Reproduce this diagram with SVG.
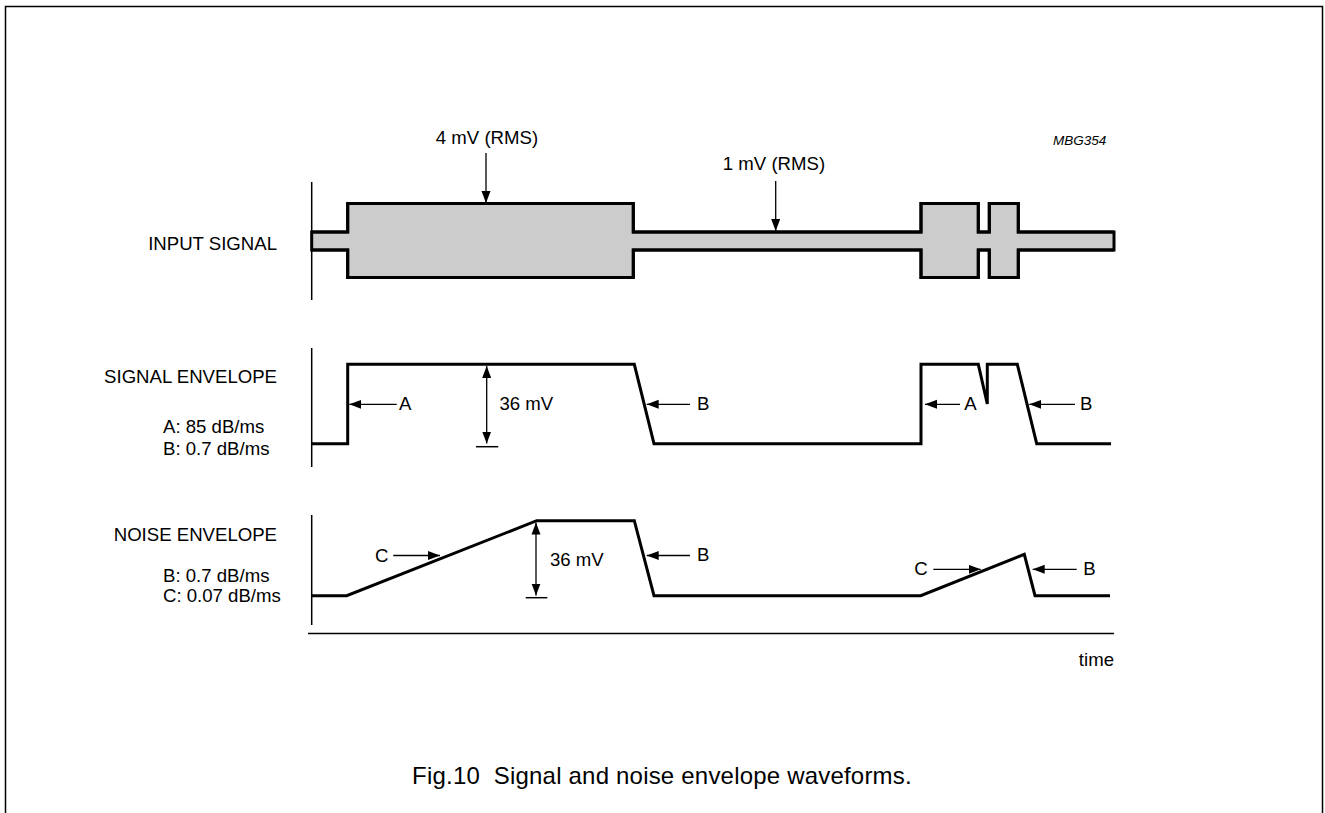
<svg xmlns="http://www.w3.org/2000/svg" width="1325" height="813" viewBox="0 0 1325 813">
<style>
text{font-family:"Liberation Sans",Arial,sans-serif;fill:#000}
.lbl{font-size:18.6px}
.sm{font-size:18.6px}
.wave{fill:none;stroke:#000;stroke-width:3;stroke-linejoin:miter}
.band{fill:#cccccc;stroke:#000;stroke-width:3}
.axis{stroke:#000;stroke-width:1.5;fill:none}
.arr{stroke:#000;stroke-width:1.3;fill:none;marker-end:url(#ah)}
.darr{stroke:#000;stroke-width:1.3;fill:none;marker-end:url(#ah);marker-start:url(#ahs)}
</style>
<defs>
<marker id="ah" markerUnits="userSpaceOnUse" markerWidth="14" markerHeight="10" refX="12" refY="4.5" orient="auto"><path d="M0,0 L12,4.5 L0,9 Z" fill="#000"/></marker>
<marker id="ahs" markerUnits="userSpaceOnUse" markerWidth="14" markerHeight="10" refX="0" refY="4.5" orient="auto"><path d="M12,0 L0,4.5 L12,9 Z" fill="#000"/></marker>
</defs>
<rect x="5.5" y="6.5" width="1317" height="830" fill="none" stroke="#000" stroke-width="1.5"/>
<g id="labels">
<text class="lbl" x="277" y="250" text-anchor="end">INPUT SIGNAL</text>
<text class="lbl" x="277" y="383" text-anchor="end">SIGNAL ENVELOPE</text>
<text class="sm" x="163" y="433">A: 85 dB/ms</text>
<text class="sm" x="163" y="455">B: 0.7 dB/ms</text>
<text class="lbl" x="277" y="541" text-anchor="end">NOISE ENVELOPE</text>
<text class="sm" x="163" y="582">B: 0.7 dB/ms</text>
<text class="sm" x="163" y="602">C: 0.07 dB/ms</text>
<text x="1053" y="145" font-size="13.5" font-style="italic">MBG354</text>
<text class="sm" x="1114" y="666" text-anchor="end">time</text>
<text x="662" y="784" font-size="24" letter-spacing="0.2" text-anchor="middle" style="white-space:pre">Fig.10  Signal and noise envelope waveforms.</text>
</g>
<g id="input-signal">
<line class="axis" x1="311.7" y1="182" x2="311.7" y2="300"/>
<path class="band" d="M311.7,232 H347.7 V203.5 H633.3 V232 H921 V203.5 H978.3 V232 H989.3 V203.5 H1018.3 V232 H1114 V250 H1018.3 V277.5 H989.3 V250 H978.3 V277.5 H921 V250 H633.3 V277.5 H347.7 V250 H311.7 Z" stroke="none"/>
<path class="wave" d="M311.7,232 H347.7 V203.5 H633.3 V232 H921 V203.5 H978.3 V232 H989.3 V203.5 H1018.3 V232 H1114"/>
<path class="wave" d="M311.7,250 H347.7 V277.5 H633.3 V250 H921 V277.5 H978.3 V250 H989.3 V277.5 H1018.3 V250 H1114"/>
<text class="sm" x="487" y="144" text-anchor="middle">4 mV (RMS)</text>
<text class="sm" x="774" y="170" text-anchor="middle">1 mV (RMS)</text>
</g>
<g id="signal-envelope">
<line class="axis" x1="311.7" y1="348" x2="311.7" y2="467"/>
<path class="wave" d="M311.7,443.7 H347.7 V364.3 H634.3 L654,443.7 H921 V364.3 H978.3 L987.3,404 V364.3 H1017.3 L1036.7,443.7 H1111"/>
<line class="axis" x1="476" y1="446.7" x2="498.3" y2="446.7"/>
<text class="sm" x="399" y="410">A</text>
<text class="sm" x="499.5" y="410">36 mV</text>
<text class="sm" x="697" y="410">B</text>
<text class="sm" x="964.3" y="410">A</text>
<text class="sm" x="1080" y="410">B</text>
</g>
<g id="noise-envelope">
<line class="axis" x1="311.7" y1="515" x2="311.7" y2="625"/>
<path class="wave" d="M311.7,595.7 H346.7 L536.7,520.7 H634.3 L654,595.7 H920.7 L1024.3,554.3 L1035,595.7 H1110"/>
<line class="axis" x1="525.7" y1="597.7" x2="547.3" y2="597.7"/>
<text class="sm" x="375" y="562">C</text>
<text class="sm" x="550" y="566">36 mV</text>
<text class="sm" x="697" y="561">B</text>
<text class="sm" x="914.3" y="575">C</text>
<text class="sm" x="1083.3" y="575">B</text>
</g>
<g id="time-axis">
<line class="axis" x1="308" y1="633.5" x2="1114" y2="633.5"/>
</g>
<g id="connectors">
<line class="arr" x1="486" y1="153" x2="486" y2="203"/>
<line class="arr" x1="775.7" y1="181" x2="775.7" y2="231"/>
<line class="arr" x1="396.7" y1="404.3" x2="349.3" y2="404.3"/>
<line class="darr" x1="486.7" y1="366" x2="486.7" y2="443.5"/>
<line class="arr" x1="690" y1="404.3" x2="646.7" y2="404.3"/>
<line class="arr" x1="960" y1="404.3" x2="925" y2="404.3"/>
<line class="arr" x1="1075" y1="404.3" x2="1029.3" y2="404.3"/>
<line class="arr" x1="393.3" y1="555.5" x2="440" y2="555.5"/>
<line class="darr" x1="536" y1="522.5" x2="536" y2="595.5"/>
<line class="arr" x1="690" y1="555.5" x2="646.7" y2="555.5"/>
<line class="arr" x1="933.3" y1="569.3" x2="980.7" y2="569.3"/>
<line class="arr" x1="1076.7" y1="569.3" x2="1032.7" y2="569.3"/>
</g>
</svg>
